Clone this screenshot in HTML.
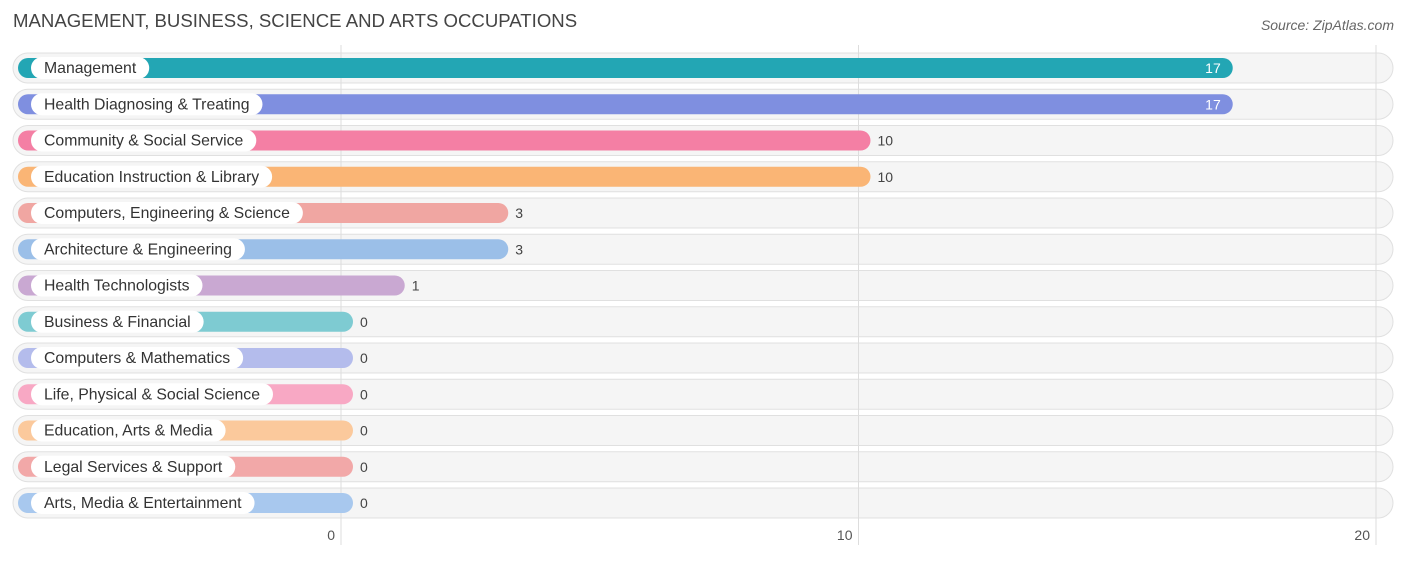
<!DOCTYPE html>
<html><head><meta charset="utf-8"><style>
body{margin:0;background:#fff;font-family:"Liberation Sans",sans-serif}
</style></head><body>
<svg width="1406" height="558" xmlns="http://www.w3.org/2000/svg" id="chart">
<text x="13" y="27" font-size="18.6" fill="#444">MANAGEMENT, BUSINESS, SCIENCE AND ARTS OCCUPATIONS</text>
<text x="1394" y="30" font-size="14" fill="#666" font-style="italic" text-anchor="end">Source: ZipAtlas.com</text>
<g id="bgs"></g><g id="grid"></g><g id="rows"></g>
</svg>
<script>
const categories=["Management","Health Diagnosing & Treating","Community & Social Service","Education Instruction & Library","Computers, Engineering & Science","Architecture & Engineering","Health Technologists","Business & Financial","Computers & Mathematics","Life, Physical & Social Science","Education, Arts & Media","Legal Services & Support","Arts, Media & Entertainment"];
const values=[17,17,10,10,3,3,1,0,0,0,0,0,0];
const colors=["#23a6b4","#7f8fe0","#f47fa4","#fab575","#f0a6a2","#9bbfe8","#c9a8d2","#7ecbd2","#b4bcec","#f8a8c4","#fbc99c","#f2a8a8","#a8c8ee"];
const ticks=[0,10,20];
const NS="http://www.w3.org/2000/svg";
const x0=341,unit=51.75;
function xs(v){return x0+v*unit;}
function yc(i){return 68+i*36.25;}
function mk(t,a,p){const e=document.createElementNS(NS,t);for(const k in a)e.setAttribute(k,a[k]);p.appendChild(e);return e;}
const bgs=document.getElementById('bgs'),grid=document.getElementById('grid'),rows=document.getElementById('rows');
ticks.forEach(t=>{
const l=mk('line',{x1:xs(t),x2:xs(t),y1:45,y2:545,stroke:'#ddd','stroke-width':1},grid);


const tx=mk('text',{x:xs(t)-6,y:540,'font-size':14,fill:'#555','text-anchor':'end'},grid);
tx.textContent=t;


});
categories.forEach((c,i)=>{
const y=yc(i);
const bg=mk('rect',{x:13,y:y-15,width:1380,height:30,rx:15,fill:'#f5f5f5',stroke:'#e0e0e0'},bgs);


const g=mk('g',{},rows);


const end=xs(values[i])+12;
const b=mk('rect',{x:18,y:y-10,width:end-18,height:20,rx:10,fill:colors[i]},g);


const p=mk('rect',{x:31,y:y-11,width:100,height:22,rx:11,fill:'#fff'},g);


const t=mk('text',{x:44,y:y+5,'font-size':15.8,fill:'#333'},g);
t.textContent=c;


p.setAttribute('width',t.getComputedTextLength()+26);
const inside=values[i]>=15;
const v=mk('text',{x:inside?end-12:end+7,y:y+5,'font-size':14,fill:inside?'#fff':'#444','text-anchor':inside?'end':'start'},g);
v.textContent=values[i];


});
</script>
</body></html>
